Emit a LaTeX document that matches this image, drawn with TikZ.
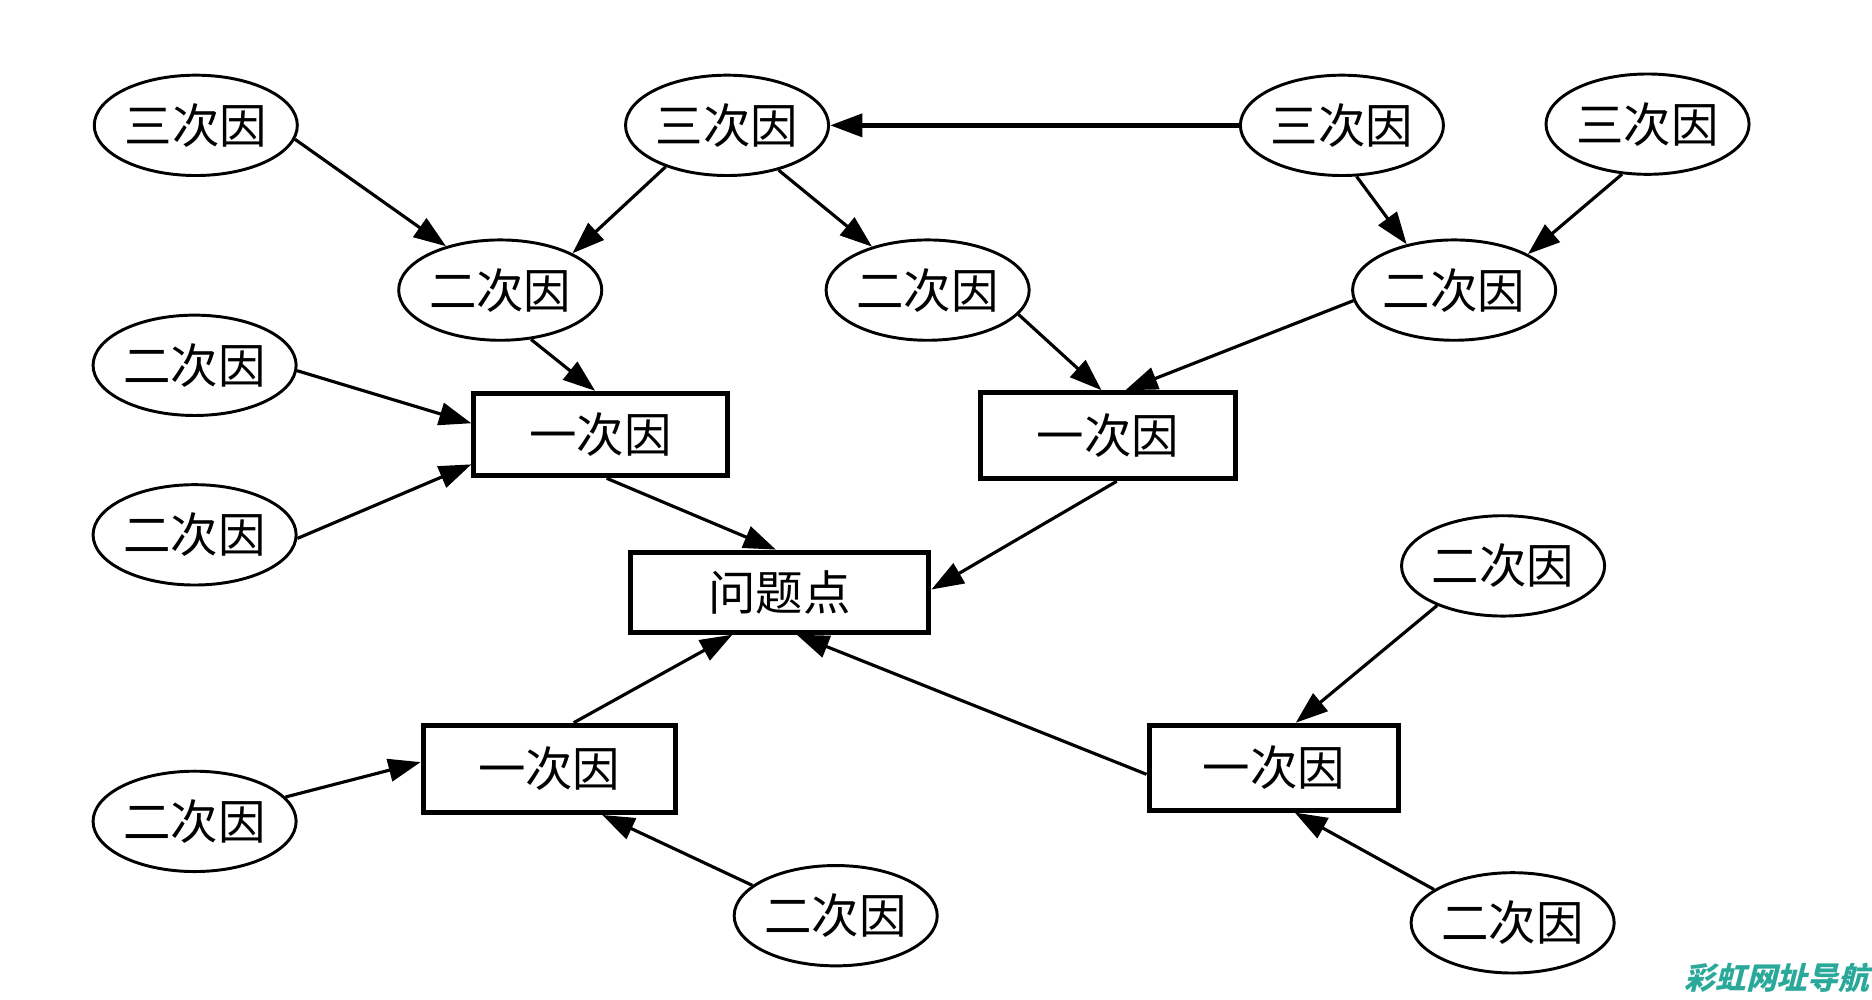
\documentclass[tikz,border=0pt]{standalone}
\usepackage{fontspec}
\newfontfamily\cjk{Noto Sans CJK SC}
\newfontfamily\wmfont[FakeSlant=0.25]{Noto Sans CJK SC}
\usetikzlibrary{shapes.geometric,arrows.meta}
\definecolor{wmteal}{HTML}{2AA89A}
\begin{document}
\begin{tikzpicture}[x=0.01cm,y=-0.01cm,
  ell/.style={draw,ellipse,line width=0.7pt,minimum width=1.70cm,minimum height=0.84cm,inner sep=0pt,font=\cjk\fontsize{11.3}{13}\selectfont},
  bx/.style={draw,rectangle,line width=1.2pt,inner sep=0pt,font=\cjk\fontsize{11.3}{13}\selectfont},
  arr/.style={line width=0.75pt,-{Triangle[length=0.27cm,width=0.19cm]}}]
\useasboundingbox (0,0) rectangle (1568,837);
% ellipses
\node[ell] (e1) at (164,105) {三次因};
\node[ell] (e2) at (609,105) {三次因};
\node[ell] (e3) at (1124,105) {三次因};
\node[ell] (e4) at (1380,104) {三次因};
\node[ell] (e5) at (419,243) {二次因};
\node[ell] (e6) at (777,243) {二次因};
\node[ell] (e7) at (1218,243) {二次因};
\node[ell] (e8) at (163,306) {二次因};
\node[ell] (e9) at (163,448) {二次因};
\node[ell] (e10) at (1259,474) {二次因};
\node[ell] (e11) at (163,688) {二次因};
\node[ell] (e12) at (700,767) {二次因};
\node[ell] (e13) at (1267,773) {二次因};
% boxes
\node[bx,minimum width=2.12cm,minimum height=0.69cm] (b1) at (503,364) {一次因};
\node[bx,minimum width=2.14cm,minimum height=0.72cm] (b2) at (928,365) {一次因};
\node[bx,minimum width=2.50cm,minimum height=0.67cm] (b3) at (653,496) {问题点};
\node[bx,minimum width=2.11cm,minimum height=0.73cm] (b4) at (460,644) {一次因};
\node[bx,minimum width=2.09cm,minimum height=0.71cm] (b5) at (1067,643) {一次因};
% arrows
\draw[arr] (e1.-8) -- (e5.141);
\draw[arr] (e2.214) -- (e5.27);
\draw[arr] (e2.-41) -- (e6.142);
\draw[arr,line width=1.1pt] (e3.west) -- (e2.east);
\draw[arr] (e3.-74) -- (e7.136);
\draw[arr] (e4.-117) -- (e7.26);
\draw[arr] (e5.-58) -- (b1.97);
\draw[arr] (e8.-3) -- (b1.175);
\draw[arr] (e9.-2) -- (b1.193);
\draw[arr] (e6.-15) -- (b2.98);
\draw[arr] (e7.186) -- (b2.69);
\draw[arr] (b1.-82) -- (b3.95);
\draw[arr] (b2.-79) -- (b3.1);
\draw[arr] (e10.211) -- (b5.64);
\draw[arr] (b5.183) -- (b3.-68);
\draw[arr] (b4.62) -- (b3.222);
\draw[arr] (e11.15) -- (b4.177);
\draw[arr] (e12.160) -- (b4.-41);
\draw[arr] (e13.157) -- (b5.-65);
% watermark
\node[anchor=east,text=wmteal,inner sep=0pt,font=\wmfont\bfseries\fontsize{7.3}{8}\selectfont] (wm) at (1566,819) {彩虹网址导航};
\end{tikzpicture}
\end{document}
